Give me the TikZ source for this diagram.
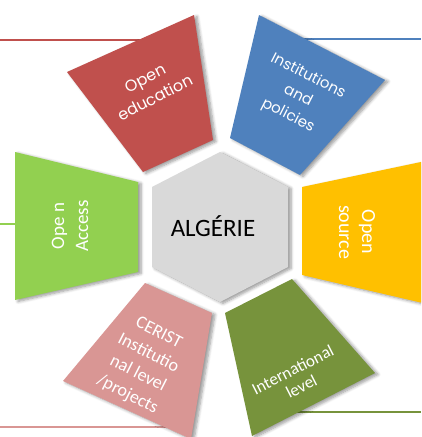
\documentclass[tikz,border=0pt]{standalone}
\usepackage{fontspec}
\setmainfont{Carlito}
\newfontfamily\geo{Poppins}
\usetikzlibrary{shadows.blur}
\definecolor{cRed}{HTML}{C0504D}
\definecolor{cBlue}{HTML}{4F81BD}
\definecolor{cYellow}{HTML}{FFC000}
\definecolor{cGreen}{HTML}{92D050}
\definecolor{cOlive}{HTML}{77933C}
\definecolor{cPink}{HTML}{D99694}
\definecolor{cGrey}{HTML}{D9D9D9}
\begin{document}
\begin{tikzpicture}[x=1pt,y=-1pt,
  seg/.style={blur shadow={shadow xshift=3pt, shadow yshift=-1.5pt, shadow blur steps=6, shadow blur radius=3pt, shadow opacity=40}},
  lbl/.style={text=white, align=center, inner sep=0pt},
  conn/.style={line width=2.2pt}]
\useasboundingbox (0,0) rectangle (421,437);
\clip (0,0) rectangle (421,437);
% connector end points
\coordinate (redIn) at (150,40);
\coordinate (redEnd) at (0,40);
\coordinate (blueIn) at (295,39);
\coordinate (blueEnd) at (421,39);
\coordinate (greenIn) at (20,224);
\coordinate (greenEnd) at (0,224);
\coordinate (pinkIn) at (175,427);
\coordinate (pinkEnd) at (0,427);
\coordinate (oliveIn) at (290,412);
\coordinate (oliveEnd) at (421,412);
\draw[conn, cRed] (redIn) -- (redEnd);
\draw[conn, cBlue] (blueIn) -- (blueEnd);
\draw[conn, cGreen] (greenIn) -- (greenEnd);
\draw[conn, cPink] (pinkIn) -- (pinkEnd);
\draw[conn, cOlive] (oliveIn) -- (oliveEnd);
% segments
\fill[cRed, seg] (67,72) -- (194,15) -- (213,140) -- (143,172) -- cycle;
\fill[cBlue, seg] (259,15) -- (385,80) -- (300,175) -- (230,138) -- cycle;
\fill[cYellow, seg] (302,187) -- (440,158) -- (440,307) -- (302,275) -- cycle;
\fill[cOlive, seg] (225,313) -- (292,279) -- (375,373) -- (252,436) -- cycle;
\fill[cPink, seg] (145,283) -- (212,313) -- (191,439) -- (63,381) -- cycle;
\fill[cGreen, seg] (15,152) -- (138,182) -- (138,272) -- (15,300) -- cycle;
\fill[cGrey, seg] (220,152) -- (288,187) -- (288,267) -- (220,302) -- (152,267) -- (152,187) -- cycle;
% labels
\node[inner sep=0pt, font=\fontsize{25}{30}\selectfont] (alg) at (213,226) {ALGÉRIE};
\node[lbl, rotate=27, font=\geo\fontsize{16}{22}\selectfont] (edu) at (150,88) {Open\\education};
\node[lbl, rotate=-27, font=\geo\fontsize{15}{22}\selectfont] (inst) at (298,96) {Institutions\\and\\policies};
\node[lbl, rotate=-90, font=\fontsize{20}{23}\selectfont] (src) at (357,232) {Open\\source};
\node[lbl, rotate=90, font=\fontsize{19}{24}\selectfont] (acc) at (70,226) {Ope n\\Access};
\node[lbl, rotate=27, font=\fontsize{17}{19}\selectfont] (intl) at (297,378) {International\\level};
\node[lbl, rotate=-27, font=\fontsize{18}{23}\selectfont] (cer) at (143,364) {CERIST\\Institutio\\nal level\\/projects};
\end{tikzpicture}
\end{document}
